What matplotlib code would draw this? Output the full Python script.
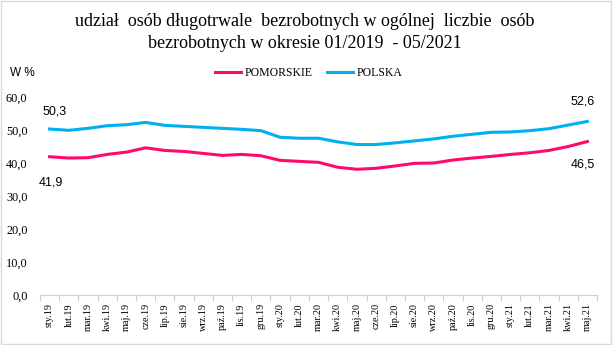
import numpy as np
import matplotlib.pyplot as plt
from matplotlib.patches import Rectangle

months = ['sty.19', 'lut.19', 'mar.19', 'kwi.19', 'maj.19', 'cze.19', 'lip.19', 'sie.19',
          'wrz.19', 'paź.19', 'lis.19', 'gru.19', 'sty.20', 'lut.20', 'mar.20', 'kwi.20',
          'maj.20', 'cze.20', 'lip.20', 'sie.20', 'wrz.20', 'paź.20', 'lis.20', 'gru.20',
          'sty.21', 'lut.21', 'mar.21', 'kwi.21', 'maj.21']
pomorskie = [41.9, 41.5, 41.6, 42.6, 43.3, 44.6, 43.8, 43.5, 42.9, 42.3, 42.6, 42.2,
             40.8, 40.5, 40.2, 38.7, 38.1, 38.4, 39.1, 39.9, 40.0, 40.9, 41.5, 42.0,
             42.6, 43.1, 43.8, 45.0, 46.5]
polska = [50.3, 49.9, 50.5, 51.3, 51.6, 52.3, 51.4, 51.1, 50.8, 50.5, 50.2, 49.8,
          47.8, 47.5, 47.5, 46.4, 45.6, 45.6, 46.1, 46.7, 47.3, 48.1, 48.7, 49.3,
          49.4, 49.8, 50.4, 51.5, 52.6]

serif = 'Liberation Serif'
sans = 'Liberation Sans'
c_pom = '#FF0A6C'
c_pl = '#00B0F0'

fig = plt.figure(figsize=(6.13, 3.45), dpi=100)
fig.patches.append(Rectangle((0.002, 0.003), 0.995, 0.993, transform=fig.transFigure,
                             fill=False, edgecolor='#D9D9D9', linewidth=1))
ax = fig.add_axes([40 / 613, 50 / 345, 557 / 613, 198 / 345])

x = np.arange(len(months))
ax.plot(x, pomorskie, color=c_pom, linewidth=2.2, label='POMORSKIE')
ax.plot(x, polska, color=c_pl, linewidth=2.2, label='POLSKA')

ax.set_xlim(-0.5, len(months) - 0.5)
ax.set_ylim(0, 60)
ax.set_yticks(np.arange(0, 61, 10))
ax.yaxis.set_major_formatter(plt.FuncFormatter(lambda v, p: ('%.1f' % v).replace('.', ',')))
ax.set_xticks(x)
ax.set_xticklabels(months, rotation=90)
ax.set_xticks(np.arange(-0.5, len(months), 1), minor=True)
ax.tick_params(axis='x', which='major', length=0, pad=6, labelsize=7.3)
ax.tick_params(axis='x', which='minor', length=4, color='#D0D0D0', width=0.8)
ax.tick_params(axis='y', length=0, pad=9, labelsize=8.8)
for lab in ax.get_xticklabels() + ax.get_yticklabels():
    lab.set_family(serif)

for s in ['top', 'right', 'left']:
    ax.spines[s].set_visible(False)
ax.spines['bottom'].set_color('#D0D0D0')
ax.spines['bottom'].set_linewidth(0.8)

# data labels at the ends
lab_kw = dict(fontsize=9, family=sans, ha='center', va='center')
ax.text(x[0] + 0.25, polska[0] + 5.2, '50,3', **lab_kw)
ax.text(x[0] + 0.05, pomorskie[0] - 7.9, '41,9', **lab_kw)
ax.text(x[-1] - 0.25, polska[-1] + 6.1, '52,6', **lab_kw)
ax.text(x[-1] - 0.25, pomorskie[-1] - 7.0, '46,5', **lab_kw)

fig.text(305 / 613, 1 - 22 / 345, 'udział  osób długotrwale  bezrobotnych w ogólnej  liczbie  osób',
         ha='center', va='center', family=serif, fontsize=13)
fig.text(305 / 613, 1 - 44 / 345, 'bezrobotnych w okresie 01/2019  - 05/2021',
         ha='center', va='center', family=serif, fontsize=13)
fig.text(10 / 613, 1 - 73 / 345, 'W %', ha='left', va='center', family=sans, fontsize=8.5)

leg = fig.legend(loc='center', bbox_to_anchor=(309 / 613, 1 - 73 / 345), ncol=2, frameon=False,
                 prop={'family': serif, 'size': 8.5}, handlelength=2.2, handletextpad=0.3,
                 columnspacing=1.2)

fig.savefig('out.png', dpi=100)
